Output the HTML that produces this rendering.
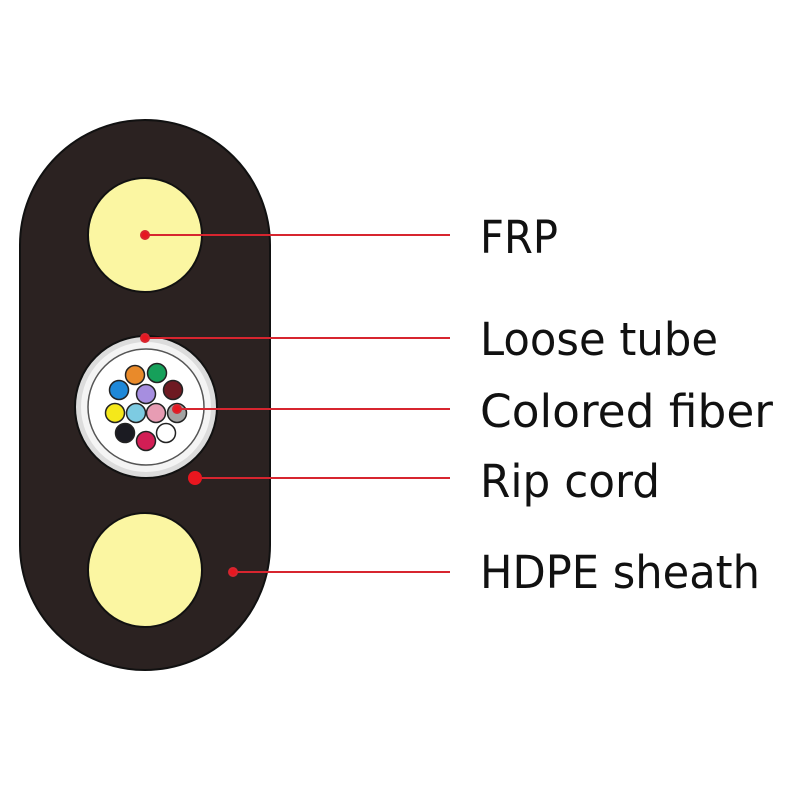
<!DOCTYPE html>
<html><head><meta charset="utf-8"><style>
body{margin:0;width:800px;height:800px;background:#fff;overflow:hidden}
</style></head><body>
<svg width="800" height="800" xmlns="http://www.w3.org/2000/svg">
<rect x="20" y="120" width="250" height="550" rx="125" ry="125" fill="#2b2221" stroke="#111" stroke-width="2"/>
<circle cx="145" cy="235" r="57" fill="#fbf6a2" stroke="#111" stroke-width="2"/>
<circle cx="145" cy="570" r="57" fill="#fbf6a2" stroke="#111" stroke-width="2"/>
<circle cx="146" cy="407" r="71" fill="#dcdcdc" stroke="#111" stroke-width="2"/>
<circle cx="146" cy="407" r="65" fill="#f4f4f4"/>
<circle cx="146" cy="407" r="58" fill="#fff" stroke="#555" stroke-width="1.5"/>
<g stroke="#222" stroke-width="1.5">
<circle cx="135" cy="375" r="9.5" fill="#e98a2a"/>
<circle cx="157" cy="373" r="9.5" fill="#16a05a"/>
<circle cx="119" cy="390" r="9.5" fill="#1f88d8"/>
<circle cx="146" cy="394" r="9.5" fill="#a68ee0"/>
<circle cx="173" cy="390" r="9.5" fill="#6e1a22"/>
<circle cx="115" cy="413" r="9.5" fill="#f5e81a"/>
<circle cx="136" cy="413" r="9.5" fill="#7dcbe2"/>
<circle cx="156" cy="413" r="9.5" fill="#e79cb3"/>
<circle cx="177" cy="413" r="9.5" fill="#a3a3a3"/>
<circle cx="125" cy="433" r="9.5" fill="#1b1b22"/>
<circle cx="146" cy="441" r="9.5" fill="#d21e55"/>
<circle cx="166" cy="433" r="9.5" fill="#fff"/>
</g>
<g stroke="#d7252f" stroke-width="2" fill="#e8161f">
<line x1="145" y1="235" x2="450" y2="235"/><circle cx="145" cy="235" r="4"/>
<line x1="145" y1="338" x2="450" y2="338"/><circle cx="145" cy="338" r="4"/>
<line x1="177" y1="409" x2="450" y2="409"/><circle cx="177" cy="409" r="4"/>
<line x1="195" y1="478" x2="450" y2="478"/><circle cx="195" cy="478" r="7" stroke="none"/>
<line x1="233" y1="572" x2="450" y2="572"/><circle cx="233" cy="572" r="4"/>
</g>
<g font-family="DejaVu Sans, sans-serif" font-size="45" fill="#111" lengthAdjust="spacingAndGlyphs">
<text x="480" y="253" textLength="78" lengthAdjust="spacingAndGlyphs">FRP</text>
<text x="480" y="355" textLength="238" lengthAdjust="spacingAndGlyphs">Loose tube</text>
<text x="480" y="427" textLength="293" lengthAdjust="spacingAndGlyphs">Colored fiber</text>
<text x="480" y="497" textLength="180" lengthAdjust="spacingAndGlyphs">Rip cord</text>
<text x="480" y="588" textLength="280" lengthAdjust="spacingAndGlyphs">HDPE sheath</text>
</g>
</svg>
</body></html>
